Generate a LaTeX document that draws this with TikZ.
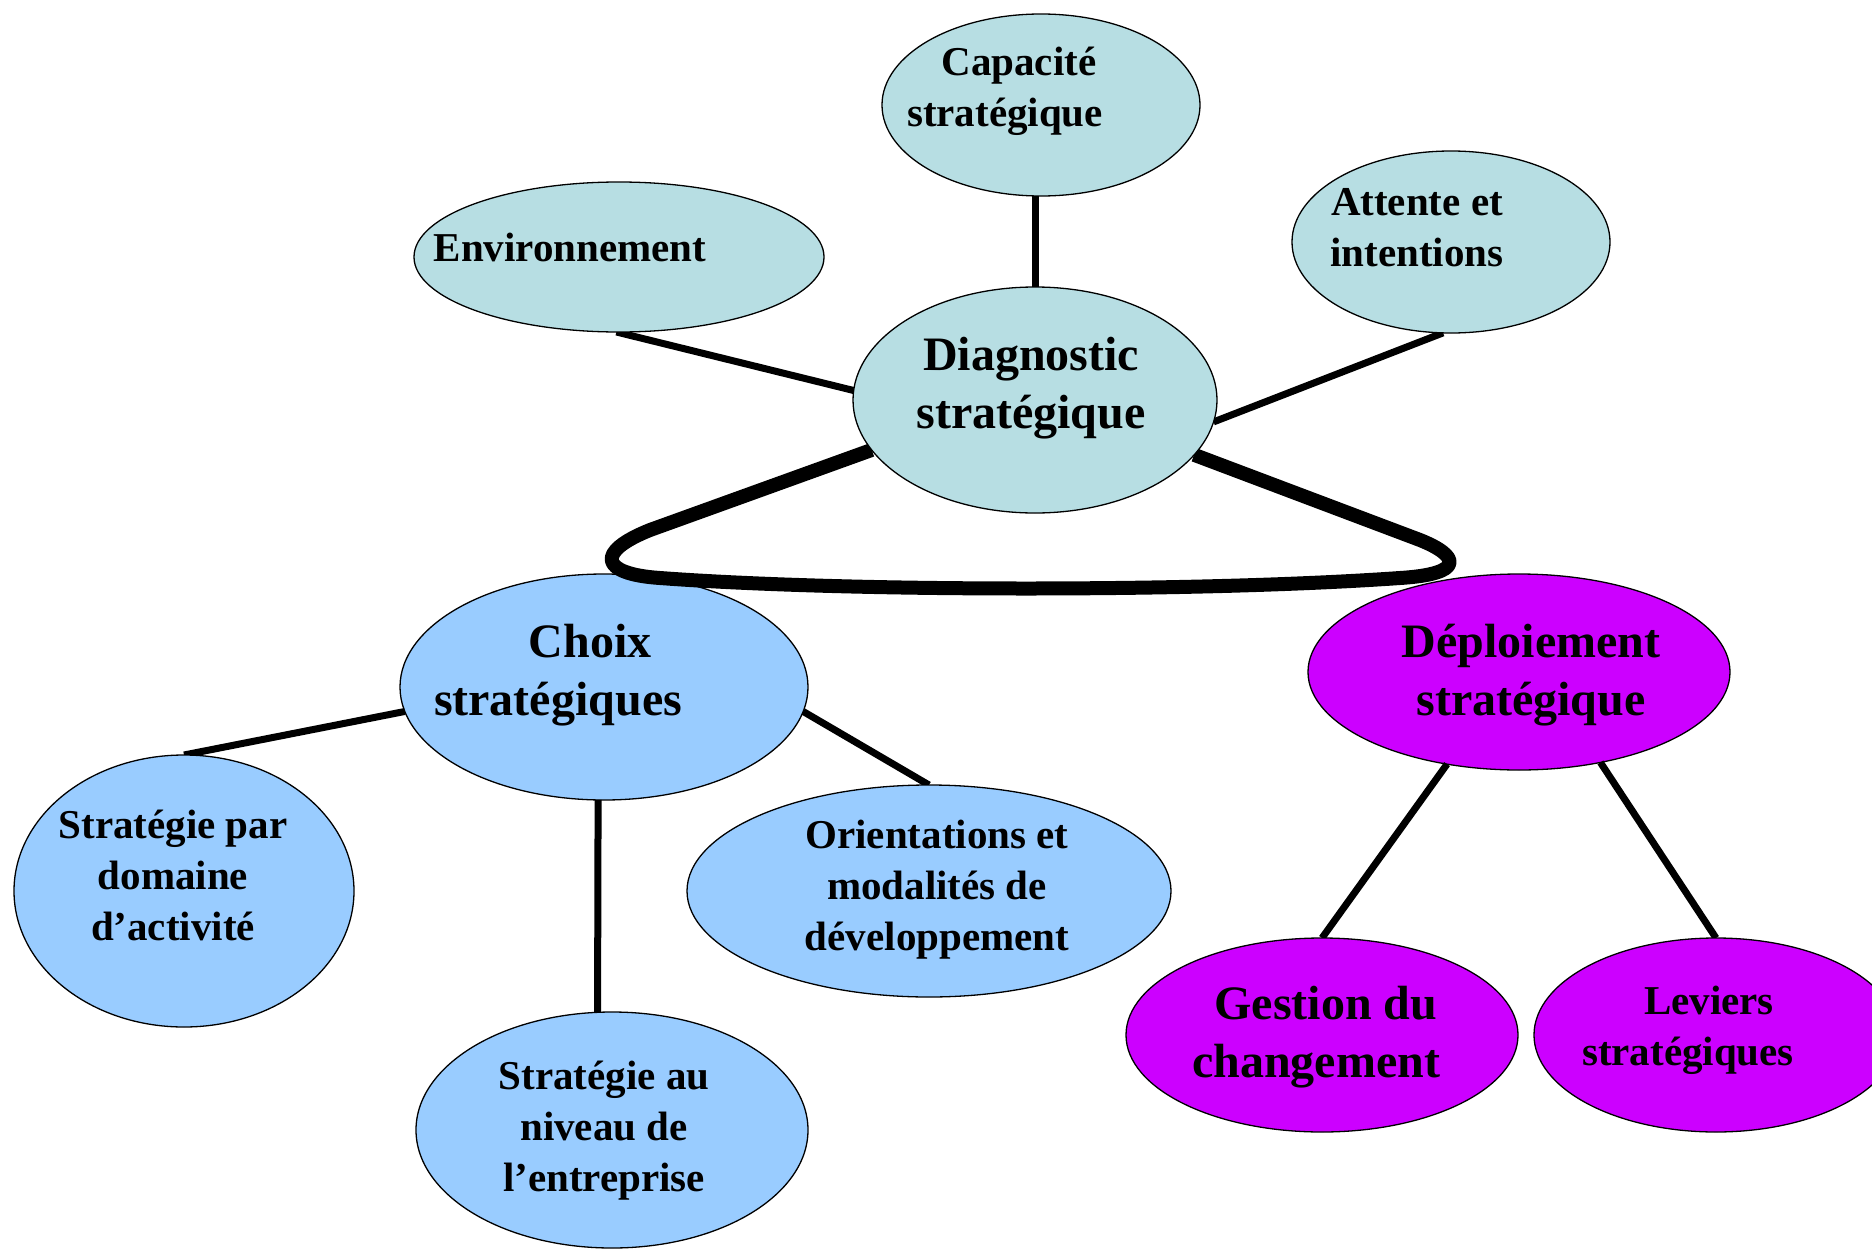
\documentclass[tikz,border=0pt]{standalone}
\usepackage{fontspec}
\setmainfont{Liberation Serif}
\usetikzlibrary{shapes.geometric}
\definecolor{teal1}{RGB}{183,222,227}
\definecolor{blue1}{RGB}{153,204,255}
\definecolor{purp1}{RGB}{204,0,255}
\newcommand{\smallfnt}{\fontsize{41}{51}\selectfont\bfseries}
\newcommand{\bigfnt}{\fontsize{48}{58}\selectfont\bfseries}
\pgfdeclarelayer{fg}
\pgfsetlayers{main,fg}
\begin{document}
\begin{tikzpicture}[x=1pt,y=-1pt,
  ell/.style={ellipse, draw=black, line width=1.3pt, inner sep=0pt, outer sep=0pt},
  lbl/.style={align=center, inner sep=0pt, text=black},
  conn/.style={line width=7pt},
  loopline/.style={line width=14pt, line join=round}]
\useasboundingbox (0,0) rectangle (1872,1250);
\clip (0,0) rectangle (1872,1250);
\fill[white] (0,0) rectangle (1872,1250);

% nodes drawn under the loop
\node[ell, fill=blue1, minimum width=408pt, minimum height=226pt] (choix) at (604,687) {};
\node[ell, fill=purp1, minimum width=422pt, minimum height=196pt] (dep) at (1519,672) {};

\begin{pgfonlayer}{fg}
\node[ell, fill=teal1, minimum width=318pt, minimum height=182pt] (cap) at (1041,105) {};
\node[ell, fill=teal1, minimum width=410pt, minimum height=150pt] (env) at (619,257) {};
\node[ell, fill=teal1, minimum width=318pt, minimum height=182pt] (att) at (1451,242) {};
\node[ell, fill=teal1, minimum width=364pt, minimum height=226pt] (diag) at (1035,400) {};
\node[ell, fill=blue1, minimum width=340pt, minimum height=272pt] (spd) at (184,891) {};
\node[ell, fill=blue1, minimum width=484pt, minimum height=212pt] (ori) at (929,891) {};
\node[ell, fill=blue1, minimum width=392pt, minimum height=236pt] (san) at (612,1130) {};
\node[ell, fill=purp1, minimum width=392pt, minimum height=194pt] (ges) at (1322,1035) {};
\node[ell, fill=purp1, minimum width=364pt, minimum height=194pt] (lev) at (1716,1035) {};

\node[lbl, font=\smallfnt] (tcap) at (1005,91) {\hspace*{28pt}Capacité\\stratégique};
\node[lbl, font=\smallfnt] (tenv) at (570,247) {Environnement};
\node[lbl, font=\smallfnt] (tatt) at (1417,228) {Attente et\\intentions};
\node[lbl, font=\bigfnt] (tdiag) at (1031,388) {Diagnostic\\stratégique};
\node[lbl, font=\bigfnt] (tchoix) at (558,675) {\hspace*{64pt}Choix\\stratégiques};
\node[lbl, font=\bigfnt] (tdep) at (1531,675) {Déploiement\\stratégique};
\node[lbl, font=\smallfnt] (tspd) at (173,875) {Stratégie par\\domaine\\d’activité};
\node[lbl, font=\smallfnt] (tori) at (937,890) {Orientations et\\modalités de\\développement};
\node[lbl, font=\smallfnt] (tsan) at (604,1131) {Stratégie au\\niveau de\\l’entreprise};
\node[lbl, font=\bigfnt] (tges) at (1316,1037) {\hspace*{20pt}Gestion du\\changement};
\node[lbl, font=\smallfnt] (tlev) at (1688,1030) {\hspace*{42pt}Leviers\\stratégiques};
\end{pgfonlayer}

% connectors
\draw[conn] (diag.north |- cap.south) -- (diag.north);
\draw[conn] (env.-92) -- (diag.177);
\draw[conn] (att.-95) -- (diag.-7);
\draw[conn] (choix.187) -- (spd.north);
\draw[conn] (choix.-93) -- (san.97);
\draw[conn] (choix.-7) -- (ori.north);
\draw[conn] (dep.-128) -- (ges.north);
\draw[conn] (dep.-48) -- (lev.north);

% thick loop
\draw[loopline] (diag.197) -- (650,530)
  .. controls (595,552) and (600,574) .. (660,578)
  .. controls (850,592) and (1200,592) .. (1400,578)
  .. controls (1465,574) and (1460,556) .. (1420,540)
  -- (diag.-19);
\end{tikzpicture}
\end{document}
